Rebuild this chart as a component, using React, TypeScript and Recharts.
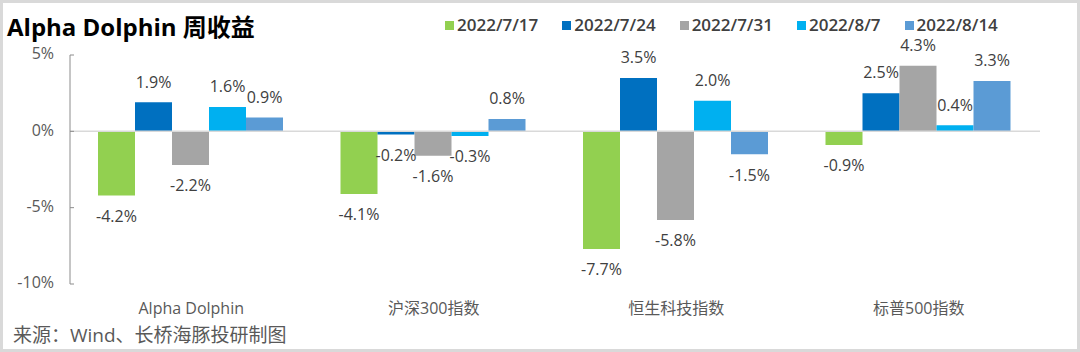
import React from "react";
import {
  BarChart,
  Bar,
  XAxis,
  YAxis,
  ReferenceLine,
  LabelList,
} from "recharts";

const categories = ["Alpha Dolphin", "沪深300指数", "恒生科技指数", "标普500指数"];
const weeks = ["2022/7/17", "2022/7/24", "2022/7/31", "2022/8/7", "2022/8/14"];
const colors = ["#92D050", "#0070C0", "#A5A5A5", "#00B0F0", "#5B9BD5"];

const w0717 = [-4.2, -4.1, -7.7, -0.9];
const w0724 = [1.9, -0.2, 3.5, 2.5];
const w0731 = [-2.2, -1.6, -5.8, 4.3];
const w0807 = [1.6, -0.3, 2.0, 0.4];
const w0814 = [0.9, 0.8, -1.5, 3.3];

const yTicks = [5, 0, -5, -10];

const series = [w0717, w0724, w0731, w0807, w0814];

const data = categories.map((name, i) => {
  const row: any = { name };
  weeks.forEach((wk, j) => {
    row[wk] = series[j][i];
  });
  return row;
});

const FONT = "'Open Sans', 'Noto Sans CJK SC', sans-serif";

function ValueLabel(props: any) {
  const { x, y, width, height, value } = props;
  const top = Math.min(y, y + height);
  const bottom = Math.max(y, y + height);
  const cy = value >= 0 ? top - 19 : bottom + 22;
  return (
    <text
      x={x + width / 2}
      y={cy}
      textAnchor="middle"
      dominantBaseline="middle"
      fontSize={16}
      fill="#404040"
      fontFamily={FONT}
    >
      {value.toFixed(1) + "%"}
    </text>
  );
}

function YTick(props: any) {
  const { x, y, payload } = props;
  const axisX = x + 16;
  return (
    <g>
      <line x1={axisX} x2={axisX + 4} y1={y} y2={y} stroke="#8c8c8c" />
      <text
        x={x}
        y={y}
        textAnchor="end"
        dominantBaseline="middle"
        fontSize={16}
        fill="#595959"
        fontFamily={FONT}
      >
        {payload.value + "%"}
      </text>
    </g>
  );
}

export default function App() {
  return (
    <div
      style={{
        position: "fixed",
        left: 0,
        top: 0,
        width: 1080,
        height: 352,
        background: "#fff",
        boxSizing: "border-box",
        border: "3px solid #d9d9d9",
        fontFamily: FONT,
      }}
    >
      <div
        style={{
          position: "absolute",
          left: 4,
          top: 10,
          fontSize: 24,
          fontWeight: 700,
          color: "#000",
          lineHeight: "28px",
        }}
      >
        Alpha Dolphin 周收益
      </div>

      <div
        style={{
          position: "absolute",
          left: 442,
          top: 13,
          display: "flex",
          gap: 24,
          fontSize: 17,
          fontWeight: 600,
          color: "#404040",
          lineHeight: "18px",
        }}
      >
        {weeks.map((wk, i) => (
          <div key={wk} style={{ display: "flex", alignItems: "center" }}>
            <span
              style={{
                display: "inline-block",
                width: 9,
                height: 9,
                background: colors[i],
                marginRight: 3,
              }}
            />
            {wk}
          </div>
        ))}
      </div>

      <div style={{ position: "absolute", left: -3, top: -3 }}>
        <BarChart
          width={1080}
          height={352}
          data={data}
          margin={{ top: 55, right: 40, left: 10, bottom: 38 }}
          barCategoryGap={28}
          barGap={0}
        >
          <XAxis
            dataKey="name"
            axisLine={false}
            tickLine={false}
            tickSize={0}
            tickMargin={19}
            interval={0}
            tick={{ fontSize: 16, fill: "#595959", fontFamily: FONT }}
          />
          <YAxis
            width={60}
            domain={[-10, 5]}
            ticks={yTicks}
            interval={0}
            axisLine={{ stroke: "#8c8c8c" }}
            tickLine={false}
            tickSize={0}
            tickMargin={16}
            tick={<YTick />}
          />
          <ReferenceLine y={0} stroke="#d9d9d9" strokeWidth={1.5} />
          {weeks.map((wk, i) => (
            <Bar
              key={wk}
              dataKey={wk}
              fill={colors[i]}
              isAnimationActive={false}
            >
              <LabelList dataKey={wk} content={<ValueLabel />} />
            </Bar>
          ))}
        </BarChart>
      </div>

      <div
        style={{
          position: "absolute",
          left: 10,
          top: 320,
          fontSize: 19,
          color: "#595959",
          lineHeight: "24px",
        }}
      >
        来源：Wind、长桥海豚投研制图
      </div>
    </div>
  );
}
